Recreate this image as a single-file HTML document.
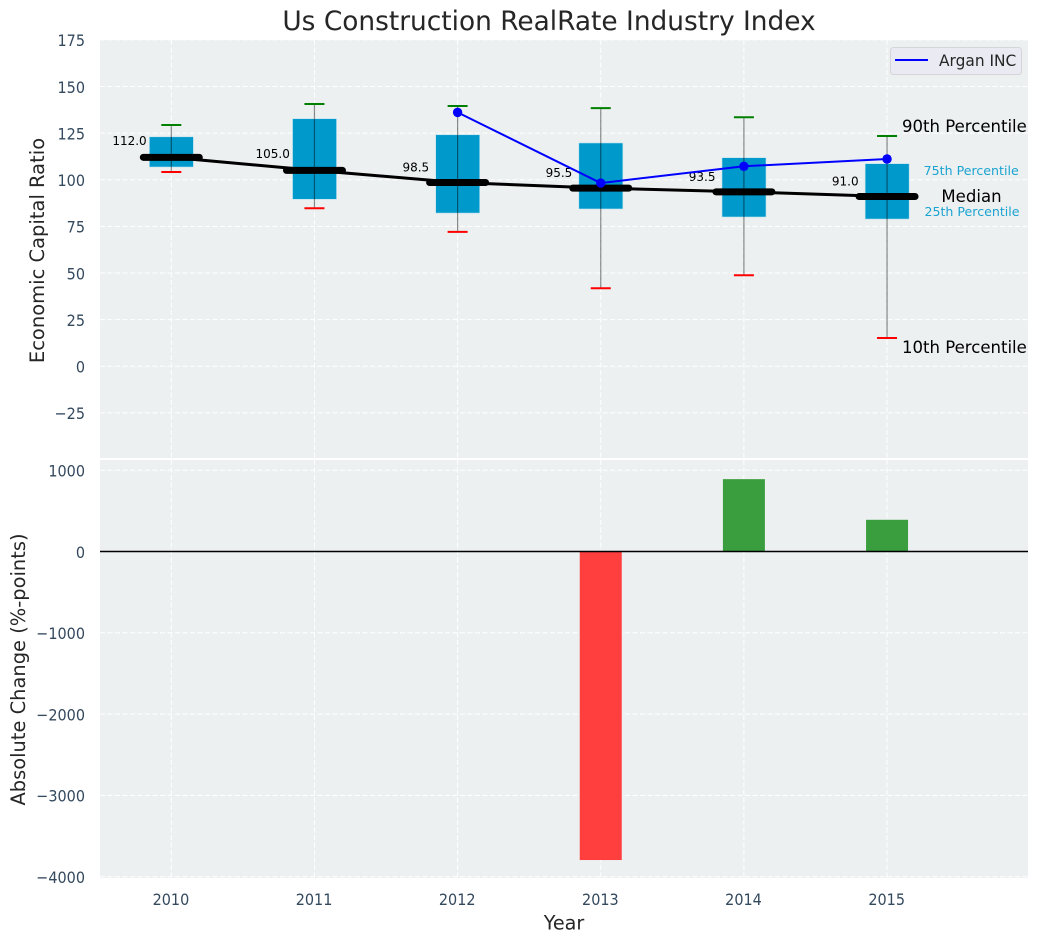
<!DOCTYPE html>
<html>
<head>
<meta charset="utf-8">
<title>Us Construction RealRate Industry Index</title>
<style>
html,body{margin:0;padding:0;background:#fff;width:1039px;height:942px;overflow:hidden}
svg{display:block}
text{font-family:"DejaVu Sans","Liberation Sans",sans-serif}
</style>
</head>
<body>
<svg id="chart" width="1039" height="942" viewBox="0 0 1039 942" xmlns="http://www.w3.org/2000/svg"></svg>
<script>
const years = [2010, 2011, 2012, 2013, 2014, 2015];
const p90 = [129.3, 140.6, 139.5, 138.4, 133.5, 123.4];
const p75 = [123, 132.7, 124.1, 119.7, 111.8, 108.6];
const median = [112, 105, 98.5, 95.5, 93.5, 91];
const p25 = [106.8, 89.5, 82.1, 84.3, 80, 78.9];
const p10 = [104.1, 84.7, 72, 41.8, 48.8, 15.1];
const medianLabels = ['112.0', '105.0', '98.5', '95.5', '93.5', '91.0'];
const arganYears = [2012, 2013, 2014, 2015];
const arganValues = [136.1, 98.2, 107.2, 111.1];
const changeYears = [2013, 2014, 2015];
const changeValues = [-3795, 890, 390];
const topTicks = [175, 150, 125, 100, 75, 50, 25, 0, -25];
const bottomTicks = [1000, 0, -1000, -2000, -3000, -4000];

const svg = document.getElementById('chart');
const NS = 'http://www.w3.org/2000/svg';
const L = 100, R = 1028, T1 = 40, B1 = 458, T2 = 460, B2 = 878;
const x = v => 171.3 + 143.15 * (v - 2010);
const y1 = v => 366.2 - 1.865 * v;
const y2 = v => 551.5 - 0.0813 * v;

function make(tag, attrs, text) {
  const el = document.createElementNS(NS, tag);
  for (const k in attrs) el.setAttribute(k, attrs[k]);
  if (text !== undefined) el.textContent = text;
  svg.appendChild(el);
  return el;
}
function fmt(v) { return v < 0 ? '\u2212' + Math.abs(v) : String(v); }
const tickStyle = {'font-size': 16, fill: '#34495e'};
function place(px, py) { return 'translate(' + px + ' ' + py + ') scale(0.9 1)'; }

let el;
el = make('rect', {x: L, y: T1, width: R - L, height: B1 - T1, fill: '#ecf0f1'});


el = make('rect', {x: L, y: T2, width: R - L, height: B2 - T2, fill: '#ecf0f1'});



const grid = {stroke: '#fff', 'stroke-width': 1, 'stroke-dasharray': '5 2.5'};
years.forEach(v => {
  el = make('line', {x1: x(v), x2: x(v), y1: T1, y2: B1, ...grid});
  
  
  el = make('line', {x1: x(v), x2: x(v), y1: T2, y2: B2, ...grid});
  
  
  el = make('text', {transform: place(x(v) - 0.4, 905), ...tickStyle, 'text-anchor': 'middle'}, String(v));
  
  
});
topTicks.forEach(v => {
  el = make('line', {x1: L, x2: R, y1: y1(v), y2: y1(v), ...grid});
  
  
  el = make('text', {transform: place(85, y1(v) + 6.3), ...tickStyle, 'text-anchor': 'end'}, fmt(v));
  
  
});
bottomTicks.forEach(v => {
  el = make('line', {x1: L, x2: R, y1: y2(v), y2: y2(v), ...grid});
  
  
  el = make('text', {transform: place(85, y2(v) + 6.3), ...tickStyle, 'text-anchor': 'end'}, fmt(v));
  
  
});

years.forEach((yr, i) => {
  const cx = x(yr);
  el = make('rect', {x: cx - 22 + 0.1, y: y1(p75[i]), width: 44, height: y1(p25[i]) - y1(p75[i]), fill: '#0099cc', stroke: '#bfe3ef', 'stroke-width': 0.6});
  
  
  el = make('line', {x1: cx, x2: cx, y1: y1(p90[i]), y2: y1(p10[i]), stroke: '#000', 'stroke-opacity': 0.45, 'stroke-width': 1.2});
  
  
  el = make('line', {x1: cx - 10, x2: cx + 10, y1: y1(p90[i]), y2: y1(p90[i]), stroke: '#008000', 'stroke-width': 2});
  
  
  el = make('line', {x1: cx - 10, x2: cx + 10, y1: y1(p10[i]), y2: y1(p10[i]), stroke: '#ff0000', 'stroke-width': 2});
  
  
});

el = make('polyline', {points: years.map((yr, i) => x(yr) + ',' + y1(median[i])).join(' '), fill: 'none', stroke: '#000', 'stroke-width': 3});



years.forEach((yr, i) => {
  const cx = x(yr);
  el = make('line', {x1: cx - 28, x2: cx + 28, y1: y1(median[i]), y2: y1(median[i]), stroke: '#000', 'stroke-width': 7, 'stroke-linecap': 'round'});
  
  
  el = make('text', {x: cx - 41.8, y: y1(median[i]) - (medianLabels[i].length > 4 ? 12.5 : 11), 'font-size': 12, fill: '#000', 'text-anchor': 'middle'}, medianLabels[i]);
  
  
});

el = make('polyline', {points: arganYears.map((yr, i) => x(yr) + ',' + y1(arganValues[i])).join(' '), fill: 'none', stroke: '#0000ff', 'stroke-width': 2});


arganYears.forEach((yr, i) => {
  el = make('circle', {cx: x(yr), cy: y1(arganValues[i]), r: 4.7, fill: '#0000ff'});
  
  
});

changeYears.forEach((yr, i) => {
  const v = changeValues[i];
  const top = Math.min(y2(v), y2(0));
  el = make('rect', {x: x(yr) - 21, y: top, width: 42, height: Math.abs(y2(v) - y2(0)), fill: v < 0 ? '#ff3e3e' : '#3b9e3e'});
  
  
});
el = make('line', {x1: L, x2: R, y1: y2(0), y2: y2(0), stroke: '#000', 'stroke-width': 1.4});


</script>
<script>
(function () {
  const s = document.getElementById('chart');
  s.insertAdjacentHTML('beforeend', `
  <text x="549" y="30" font-size="26.4" fill="#262626" text-anchor="middle">Us Construction RealRate Industry Index</text>
  <text transform="translate(44 250.5) rotate(-90)" font-size="19.5" fill="#262626" text-anchor="middle">Economic Capital Ratio</text>
  <text transform="translate(25 669.5) rotate(-90)" font-size="19.45" fill="#262626" text-anchor="middle">Absolute Change (%-points)</text>
  <text x="564" y="929.3" font-size="19.2" fill="#262626" text-anchor="middle">Year</text>
  <text x="902" y="132" font-size="16.55" fill="#000">90th Percentile</text>
  <text x="902" y="353" font-size="16.55" fill="#000">10th Percentile</text>
  <text x="971.5" y="202" font-size="16.55" fill="#000" text-anchor="middle">Median</text>
  <text x="971.2" y="175" font-size="12.6" fill="#1ba3d1" text-anchor="middle">75th Percentile</text>
  <text x="972" y="216" font-size="12.6" fill="#1ba3d1" text-anchor="middle">25th Percentile</text>
  <g>
    <rect x="890.5" y="47.5" width="131" height="27" rx="3" fill="#eaeaf2" stroke="#d5d5d9"/>
    <line x1="895" x2="928" y1="60" y2="60" stroke="#0000ff" stroke-width="2"/>
    <text transform="translate(939 66) scale(0.94 1)" font-size="16.4" fill="#262626">Argan INC</text>
  </g>`);
})();
</script>
</body>
</html>
